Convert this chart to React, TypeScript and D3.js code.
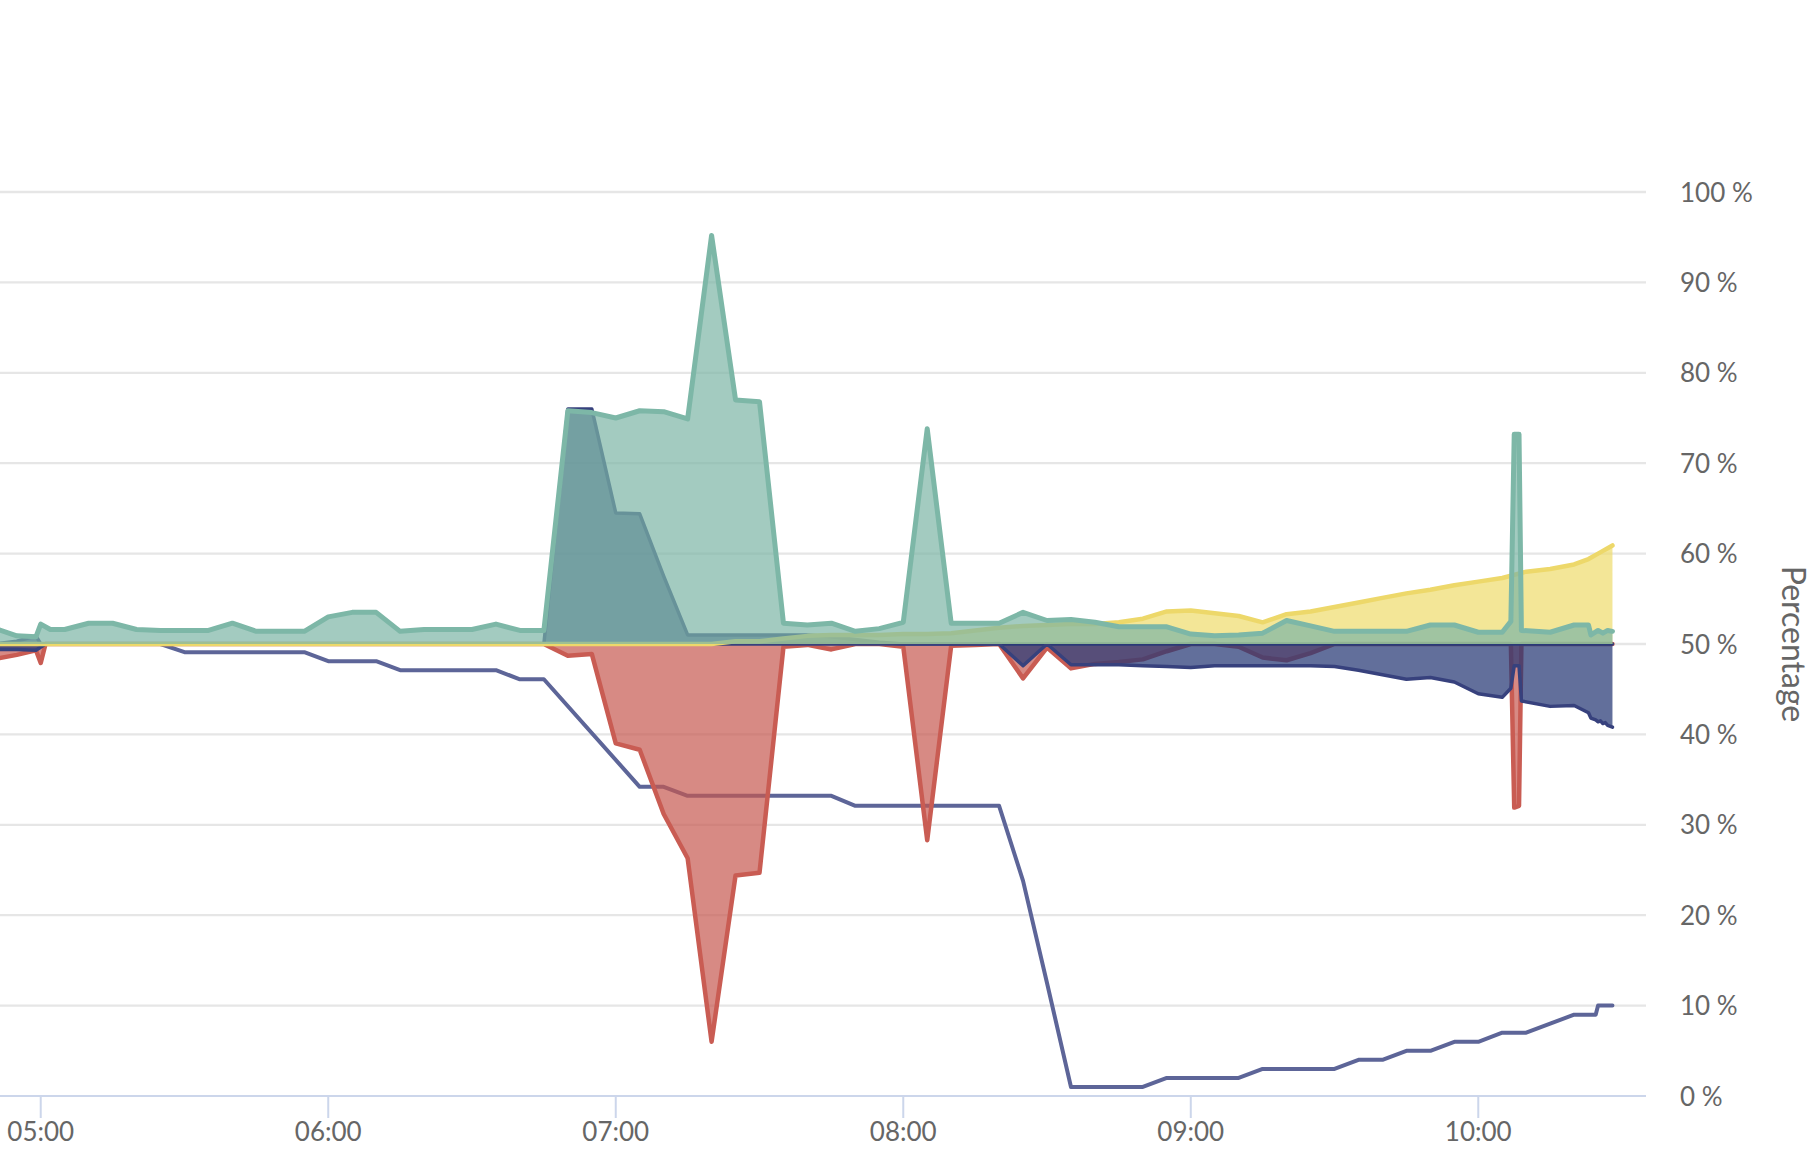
import React from "react";
import * as d3 from "d3";

type Pt = [string, number];

// ---------- data (time of day, percentage) ----------
const greenSeries: Pt[] = [
  ["04:50", 51.8], ["04:55", 50.9], ["04:59", 50.8], ["05:00", 52.2], ["05:02", 51.6], ["05:05", 51.6],
  ["05:10", 52.3], ["05:15", 52.3], ["05:20", 51.6], ["05:25", 51.5], ["05:30", 51.5], ["05:35", 51.5],
  ["05:40", 52.3], ["05:45", 51.4], ["05:50", 51.4], ["05:55", 51.4], ["06:00", 53.0], ["06:05", 53.5],
  ["06:10", 53.5], ["06:15", 51.4], ["06:20", 51.6], ["06:25", 51.6], ["06:30", 51.6], ["06:35", 52.2],
  ["06:40", 51.5], ["06:45", 51.5], ["06:50", 75.8], ["06:55", 75.6], ["07:00", 75.0], ["07:05", 75.8],
  ["07:10", 75.7], ["07:15", 74.9], ["07:20", 95.2], ["07:25", 77.0], ["07:30", 76.8], ["07:35", 52.3],
  ["07:40", 52.1], ["07:45", 52.3], ["07:50", 51.4], ["07:55", 51.7], ["08:00", 52.4], ["08:05", 73.8],
  ["08:10", 52.3], ["08:15", 52.3], ["08:20", 52.3], ["08:25", 53.5], ["08:30", 52.6], ["08:35", 52.7],
  ["08:40", 52.4], ["08:45", 51.9], ["08:50", 51.9], ["08:55", 51.9], ["09:00", 51.1], ["09:05", 50.9],
  ["09:10", 51.0], ["09:15", 51.2], ["09:20", 52.6], ["09:25", 52.0], ["09:30", 51.4], ["09:35", 51.4],
  ["09:40", 51.4], ["09:45", 51.4], ["09:50", 52.1], ["09:55", 52.1], ["10:00", 51.3], ["10:05", 51.3],
  ["10:06:48", 52.5], ["10:07:30", 73.2], ["10:08:30", 73.2], ["10:09", 51.5], ["10:15", 51.3],
  ["10:20", 52.1], ["10:23", 52.1], ["10:23:30", 51.0], ["10:25", 51.5], ["10:26", 51.2], ["10:27", 51.5],
  ["10:28", 51.4],
];

const redSeries: Pt[] = [
  ["04:50", 48.3], ["04:55", 48.8], ["04:59", 49.3], ["05:00", 47.9], ["05:01", 50], ["06:45", 50],
  ["06:50", 48.7], ["06:55", 48.9], ["07:00", 39.0], ["07:05", 38.3], ["07:10", 31.2], ["07:15", 26.3],
  ["07:20", 6.0], ["07:25", 24.4], ["07:30", 24.7], ["07:35", 49.7], ["07:40", 49.9], ["07:45", 49.4],
  ["07:50", 50], ["07:55", 50], ["08:00", 49.7], ["08:05", 28.3], ["08:10", 49.8], ["08:15", 49.9],
  ["08:20", 50], ["08:25", 46.2], ["08:30", 49.6], ["08:35", 47.3], ["08:40", 47.8], ["08:45", 48.0],
  ["08:50", 48.3], ["08:55", 49.2], ["09:00", 50], ["09:05", 50], ["09:10", 49.7], ["09:15", 48.5],
  ["09:20", 48.2], ["09:25", 49.0], ["09:30", 50], ["10:06:48", 50], ["10:07:30", 31.9],
  ["10:08:30", 32.1], ["10:09", 50], ["10:28", 50],
];

const navyUpSeries: Pt[] = [
  ["04:50", 50], ["04:55", 50.3], ["04:59", 50.9], ["05:00", 50], ["06:45", 50], ["06:50", 76.0],
  ["06:55", 76.0], ["07:00", 64.5], ["07:05", 64.4], ["07:10", 57.5], ["07:15", 51.0], ["07:40", 51.0],
  ["07:45", 50.8], ["07:50", 50.5], ["07:55", 50.2], ["08:00", 50], ["10:28", 50],
];

const navyDownSeries: Pt[] = [
  ["04:50", 49.4], ["04:55", 49.4], ["04:59", 49.3], ["05:01", 50], ["08:20", 50], ["08:25", 47.6],
  ["08:30", 50], ["08:35", 47.7], ["08:40", 47.7], ["08:45", 47.7], ["08:50", 47.6], ["08:55", 47.5],
  ["09:00", 47.4], ["09:05", 47.6], ["09:10", 47.6], ["09:15", 47.6], ["09:20", 47.6], ["09:25", 47.6],
  ["09:30", 47.5], ["09:35", 47.1], ["09:40", 46.6], ["09:45", 46.1], ["09:50", 46.3], ["09:55", 45.8],
  ["10:00", 44.5], ["10:05", 44.1], ["10:06:48", 45.1], ["10:07:30", 47.6], ["10:08:30", 47.6],
  ["10:09", 43.7], ["10:15", 43.1], ["10:20", 43.2], ["10:23", 42.4], ["10:23:30", 41.8],
  ["10:24:30", 41.6], ["10:25", 41.4], ["10:25:30", 41.5], ["10:26", 41.2], ["10:26:30", 41.3],
  ["10:27", 41.0], ["10:28", 40.8],
];

const yellowSeries: Pt[] = [
  ["04:50", 50], ["07:20", 50], ["07:25", 50.3], ["07:30", 50.3], ["07:35", 50.6], ["07:40", 50.9],
  ["07:45", 51.0], ["07:50", 51.0], ["07:55", 51.0], ["08:00", 51.1], ["08:05", 51.1], ["08:10", 51.2],
  ["08:15", 51.5], ["08:20", 51.8], ["08:25", 52.0], ["08:30", 52.1], ["08:35", 52.2], ["08:40", 52.2],
  ["08:45", 52.4], ["08:50", 52.8], ["08:55", 53.6], ["09:00", 53.7], ["09:05", 53.4], ["09:10", 53.1],
  ["09:15", 52.4], ["09:20", 53.3], ["09:25", 53.6], ["09:30", 54.1], ["09:35", 54.6], ["09:40", 55.1],
  ["09:45", 55.6], ["09:50", 56.0], ["09:55", 56.5], ["10:00", 56.9], ["10:05", 57.3], ["10:10", 58.0],
  ["10:15", 58.3], ["10:20", 58.8], ["10:23", 59.4], ["10:25", 60.0], ["10:26", 60.3], ["10:27", 60.6],
  ["10:28", 60.9],
];

const trendSeries: Pt[] = [
  ["04:50", 50], ["05:25", 50], ["05:30", 49.1], ["05:55", 49.1], ["06:00", 48.1], ["06:10", 48.1],
  ["06:15", 47.1], ["06:35", 47.1], ["06:40", 46.1], ["06:45", 46.1], ["07:05", 34.2], ["07:10", 34.2],
  ["07:15", 33.2], ["07:45", 33.2], ["07:50", 32.1], ["08:20", 32.1], ["08:25", 23.8], ["08:30", 12.5],
  ["08:35", 1.0], ["08:50", 1.0], ["08:55", 2.0], ["09:10", 2.0], ["09:15", 3.0], ["09:30", 3.0],
  ["09:35", 4.0], ["09:40", 4.0], ["09:45", 5.0], ["09:50", 5.0], ["09:55", 6.0], ["10:00", 6.0],
  ["10:05", 7.0], ["10:10", 7.0], ["10:15", 8.0], ["10:20", 9.0], ["10:24:30", 9.0], ["10:25", 10.0],
  ["10:28", 10.0],
];

const yTicks = [10, 20, 30, 40, 50, 60, 70, 80, 90, 100];
const yLabelTicks = [0, 10, 20, 30, 40, 50, 60, 70, 80, 90, 100];
const axisTitle = "Percentage";
const xDomain = ["04:51:30", "10:35"];
const baselineValue = 50;

// ---------- helpers ----------
const parseT = (s: string) => {
  const [h, m, sec] = s.split(":").map(Number);
  return new Date(2024, 0, 1, h, m, sec || 0);
};

const W = 1819;
const H = 1173;
const plotRight = 1646;
const yTop = 192;
const yBottom = 1096;

const x = d3.scaleTime().domain(xDomain.map(parseT)).range([0, plotRight]);
const y = d3.scaleLinear().domain([0, 100]).range([yBottom, yTop]);

const areaGen = d3
  .area<Pt>()
  .x((d) => x(parseT(d[0])))
  .y0(() => y(baselineValue))
  .y1((d) => y(d[1]));
const lineGen = d3
  .line<Pt>()
  .x((d) => x(parseT(d[0])))
  .y((d) => y(d[1]));

const fontFamily = "Lato, 'Open Sans', sans-serif";
const textColor = "#666666";

const RED = { fill: "#c65850", op: 0.7, stroke: "#c95c53", w: 4.5 };
const NAVY = { fill: "#263774", op: 0.72, stroke: "#37417d", w: 3.5 };
const YELLOW = { fill: "#eedb6b", op: 0.7, stroke: "#edd86a", w: 4.5 };
const GREEN = { fill: "#7cb5a5", op: 0.7, stroke: "#7db7a7", w: 5 };

export default function App() {
  const hourTicks = x.ticks(d3.timeHour.every(1) as d3.TimeInterval);
  const fmt = d3.timeFormat("%H:%M");
  const areaPath = (data: Pt[], s: typeof RED) => (
    <path d={areaGen(data) || ""} fill={s.fill} fillOpacity={s.op} stroke="none" />
  );
  const linePath = (data: Pt[], s: typeof RED) => (
    <path d={lineGen(data) || ""} fill="none" stroke={s.stroke} strokeWidth={s.w} />
  );
  return (
    <svg
      width={W}
      height={H}
      style={{ position: "absolute", left: 0, top: 0, background: "#ffffff" }}
      fontFamily={fontFamily}
    >
      <defs>
        <clipPath id="plotClip">
          <rect x={0} y={0} width={plotRight} height={H} />
        </clipPath>
      </defs>
      {/* grid */}
      {yTicks.map((t) => (
        <line key={t} x1={0} x2={plotRight} y1={y(t)} y2={y(t)} stroke="#e6e6e6" strokeWidth={2.3} />
      ))}
      {/* series */}
      <g clipPath="url(#plotClip)" strokeLinejoin="round" strokeLinecap="round">
        <path d={lineGen(trendSeries) || ""} fill="none" stroke="#5d6598" strokeWidth={4} />
        {areaPath(redSeries, RED)}
        {linePath(redSeries, RED)}
        {areaPath(navyUpSeries, NAVY)}
        {linePath(navyUpSeries, NAVY)}
        {areaPath(navyDownSeries, NAVY)}
        {linePath(navyDownSeries, NAVY)}
        {areaPath(yellowSeries, YELLOW)}
        {linePath(yellowSeries, YELLOW)}
        {areaPath(greenSeries, GREEN)}
        {linePath(greenSeries, GREEN)}
      </g>
      {/* x axis */}
      <line x1={0} x2={plotRight} y1={yBottom} y2={yBottom} stroke="#ccd6eb" strokeWidth={2} />
      {hourTicks.map((t) => (
        <g key={t.getTime()}>
          <line x1={x(t)} x2={x(t)} y1={yBottom} y2={yBottom + 22} stroke="#ccd6eb" strokeWidth={2} />
          <text x={x(t)} y={1141} textAnchor="middle" fontSize={26} fill={textColor}>
            {fmt(t)}
          </text>
        </g>
      ))}
      {/* y axis labels (right) */}
      {yLabelTicks.map((t) => (
        <text key={t} x={1680} y={y(t) + 9.5} fontSize={26} fill={textColor}>
          {`${t} %`}
        </text>
      ))}
      <text
        transform={`translate(1782, ${y(50)}) rotate(90)`}
        textAnchor="middle"
        fontSize={32}
        fill={textColor}
      >
        {axisTitle}
      </text>
    </svg>
  );
}
